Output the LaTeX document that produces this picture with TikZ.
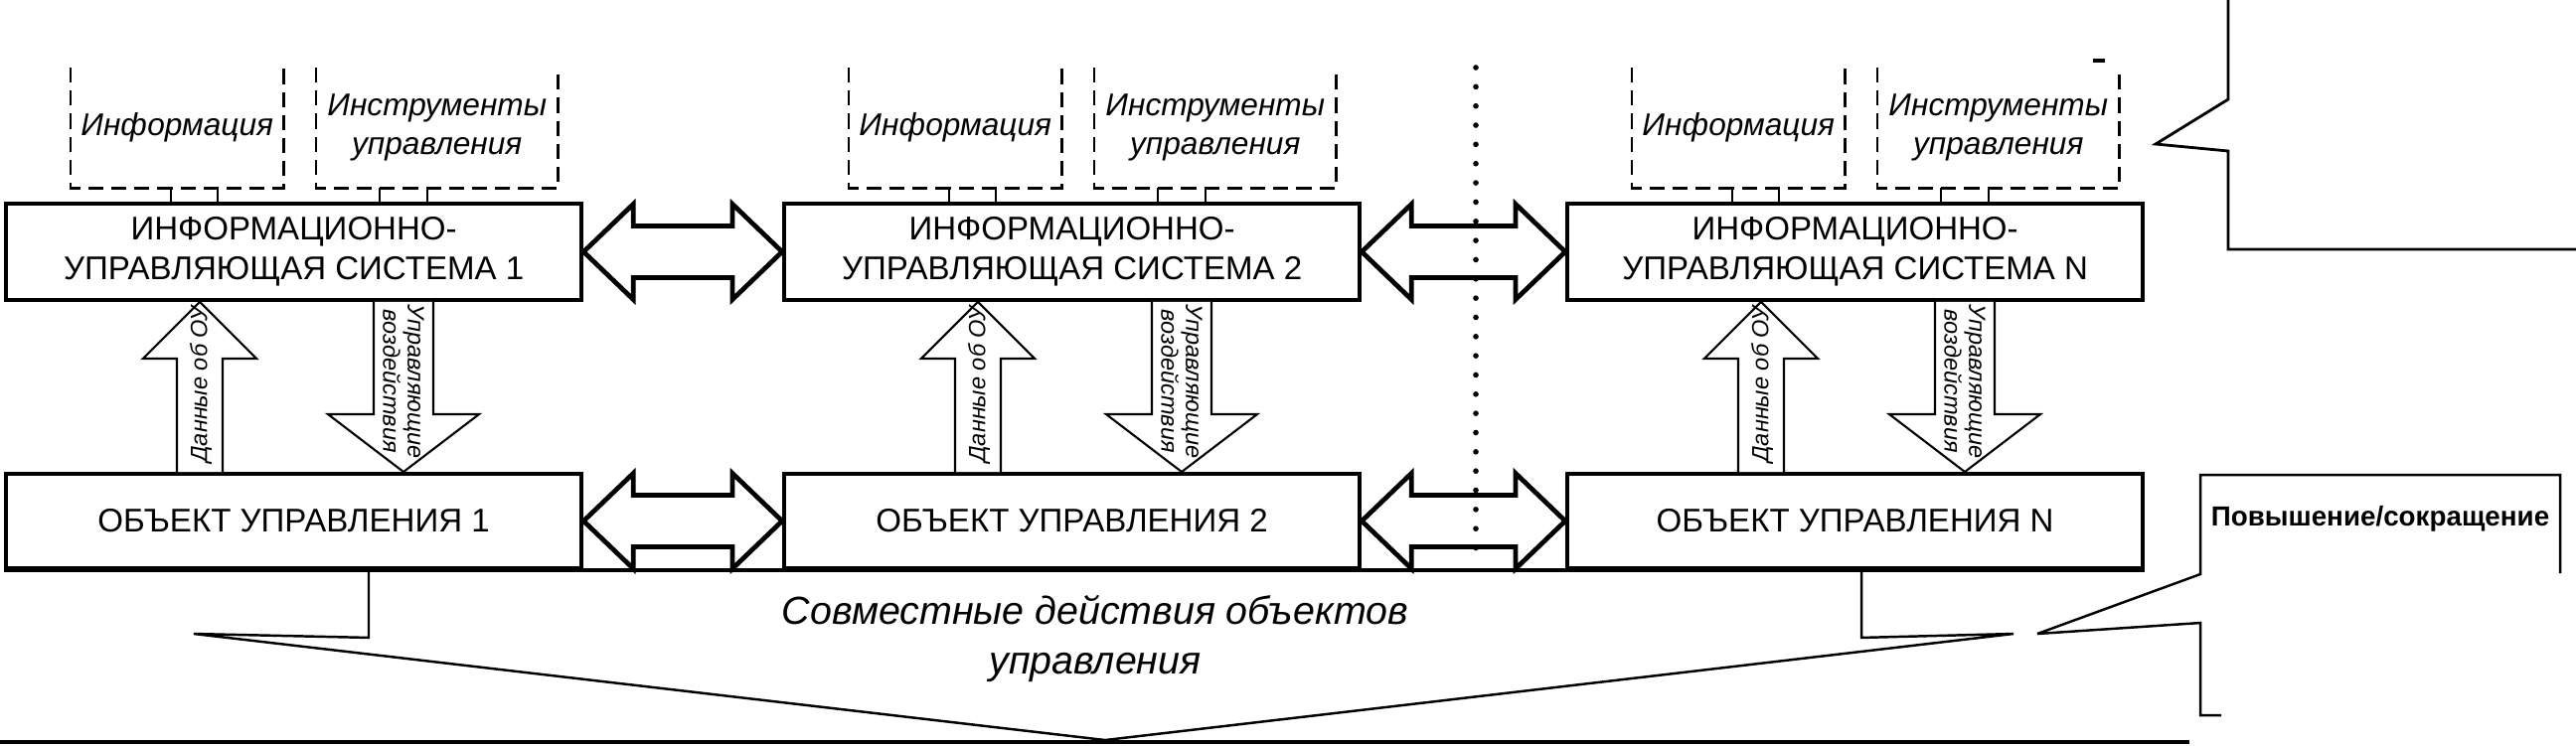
\documentclass[tikz,border=0pt]{standalone}
\usepackage{fontspec}
\setmainfont{Liberation Sans}
\usetikzlibrary{calc}
\begin{document}
\begin{tikzpicture}[x=0.01cm,y=-0.01cm,
  box/.style={draw,line width=1.1pt,minimum width=5.79cm,inner sep=0pt,align=center,font=\fontsize{9.4}{11.4}\selectfont,anchor=north west},
  iusbox/.style={box,minimum height=0.97cm},
  oubox/.style={box,minimum height=0.95cm},
  dbox/.style={inner sep=0pt,anchor=north west,minimum height=1.2cm,align=center,font=\fontsize{9}{11.1}\selectfont\itshape},
  dashline/.style={line width=0.75pt,dash pattern=on 4.3pt off 2.3pt},
  thinline/.style={line width=0.7pt},
  dbl/.style={line width=1.35pt,fill=white,line join=miter},
  blk/.style={line width=0.6pt,fill=white},
  atext/.style={font=\fontsize{6.7}{7}\selectfont\itshape,align=center,inner sep=0pt},
]
\useasboundingbox (0,0) rectangle (2592,750);

\foreach \n/\x in {1/4,2/787,N/1575}{
  \node[iusbox] (ius\n) at (\x,203) {ИНФОРМАЦИОННО-\\УПРАВЛЯЮЩАЯ СИСТЕМА \n};
  \node[oubox] (ou\n) at (\x,475) {ОБЪЕКТ УПРАВЛЕНИЯ \n};
  \node[dbox,minimum width=2.13cm] (info\n) at (\x+67,68) {Информация};
  \node[dbox,minimum width=2.42cm] (tool\n) at (\x+314,68) {Инструменты\\управления};
  \draw[dashline] (info\n.north west) -- (info\n.south west) -- (info\n.south east) -- (info\n.north east);
  \draw[dashline] (tool\n.north west) -- (tool\n.south west) -- (tool\n.south east) -- (tool\n.north east);
  \draw[thinline] ($(info\n.south west)+(101,0)$) -- ($(ius\n.north west)+(168,0)$);
  \draw[thinline] ($(info\n.south west)+(148,0)$) -- ($(ius\n.north west)+(215,0)$);
  \draw[thinline] ($(tool\n.south west)+(64,0)$) -- ($(ius\n.north west)+(378,0)$);
  \draw[thinline] ($(tool\n.south west)+(112,0)$) -- ($(ius\n.north west)+(426,0)$);
  % up arrow
  \draw[blk] ($(ou\n.north west)+(174,0)$) -- ($(ius\n.south west)+(174,57)$) -- ($(ius\n.south west)+(140,57)$) -- ($(ius\n.south west)+(197,0)$) -- ($(ius\n.south west)+(254,57)$) -- ($(ius\n.south west)+(220,57)$) -- ($(ou\n.north west)+(220,0)$);
  \node[atext,rotate=90] (dat\n) at ($(ius\n.south west)+(198,83)$) {Данные об ОУ};
  % down arrow
  \draw[blk] ($(ius\n.south west)+(372,0)$) -- ($(ou\n.north west)+(372,-58)$) -- ($(ou\n.north west)+(326,-58)$) -- ($(ou\n.north west)+(402,0)$) -- ($(ou\n.north west)+(478,-58)$) -- ($(ou\n.north west)+(432,-58)$) -- ($(ius\n.south west)+(432,0)$);
  \node[atext,rotate=-90] (upr\n) at ($(ius\n.south west)+(402,80)$) {Управляющие\\воздействия};
}

\foreach \a/\b in {1/2,2/N}{
  \draw[dbl] (ius\a.east) -- ++(50,-48) -- ++(0,22) -- ($(ius\b.west)+(-50,-26)$) -- ++(0,-22) -- (ius\b.west) -- ++(-50,48) -- ++(0,-22) -- ($(ius\a.east)+(50,26)$) -- ++(0,22) -- cycle;
  \draw[dbl] (ou\a.east) -- ++(50,-48) -- ++(0,22) -- ($(ou\b.west)+(-50,-26)$) -- ++(0,-22) -- (ou\b.west) -- ++(-50,48) -- ++(0,-22) -- ($(ou\a.east)+(50,26)$) -- ++(0,22) -- cycle;
}
\draw[line width=1.1pt] (ou1.south west) -- (ouN.south east);

% brace
\draw[thinline] ($(ou1.south west)+(367,0)$) -- ++(0,68) -- (195,638) -- (1112,745) -- (2026,638) -- ($(ouN.south west)+(298,68)$) -- ($(ouN.south west)+(298,0)$);
\draw[line width=1.3pt] (0,747) -- (2203,747);
\node[font=\fontsize{11.2}{14.2}\selectfont\itshape,align=center] (joint) at (1102,643) {Совместные действия объектов\\управления};

% right callouts
\node[font=\fontsize{7.9}{9}\selectfont\bfseries,inner sep=0pt] (pov) at (2395,522) {Повышение/сокращение};
\draw[thinline] (2050,638) -- (2214,578) -- (2214,478) -- (2576,478) -- (2576,577);
\draw[thinline] (2050,638) -- (2214,627) -- (2214,720) -- (2235,720);
\draw[line width=0.8pt] (2242,0) -- (2242,100) -- (2169,145) -- (2242,152) -- (2242,251) -- (2592,251);
\draw[line width=1pt] (2106,61) -- (2118,61);

% dotted separator
\draw[line width=1.6pt,line cap=round,dash pattern=on 0pt off 5.5pt] (1485,68) -- (1485,562);
\end{tikzpicture}
\end{document}
